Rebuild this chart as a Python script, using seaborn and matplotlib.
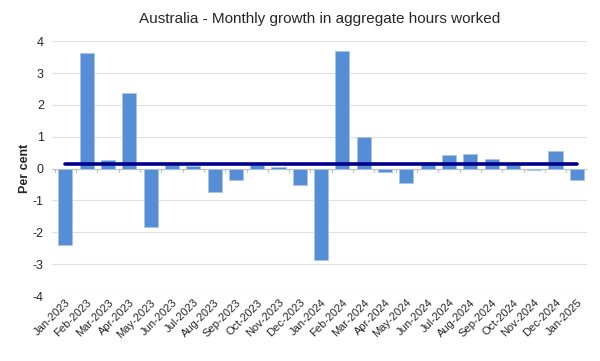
import matplotlib
matplotlib.use("Agg")
import matplotlib.pyplot as plt
import seaborn as sns
import pandas as pd

months = ["Jan-2023", "Feb-2023", "Mar-2023", "Apr-2023", "May-2023", "Jun-2023",
          "Jul-2023", "Aug-2023", "Sep-2023", "Oct-2023", "Nov-2023", "Dec-2023",
          "Jan-2024", "Feb-2024", "Mar-2024", "Apr-2024", "May-2024", "Jun-2024",
          "Jul-2024", "Aug-2024", "Sep-2024", "Oct-2024", "Nov-2024", "Dec-2024",
          "Jan-2025"]
growth = [-2.39, 3.62, 0.28, 2.36, -1.83, 0.12, 0.07, -0.74, -0.36, 0.12, 0.06, -0.50,
          -2.88, 3.68, 0.98, -0.10, -0.45, 0.22, 0.42, 0.45, 0.30, 0.12, -0.05, 0.55,
          -0.36]
average = [0.15] * len(months)
yticks = [4, 3, 2, 1, 0, -1, -2, -3, -4]

df = pd.DataFrame({"month": months, "growth": growth, "avg": average})

sns.set_theme(style="white")
plt.rcParams["font.family"] = ["Liberation Sans", "DejaVu Sans"]
plt.rcParams["axes.unicode_minus"] = False

fig = plt.figure(figsize=(6, 3.61), dpi=100)
ax = fig.add_axes([0.087, 0.18, 0.891, 0.706])

sns.barplot(data=df, x="month", y="growth", color="#558ED5", saturation=1,
            width=0.66, edgecolor="#A9C4EB", linewidth=0.6, ax=ax, zorder=2)
ax.plot(range(len(months)), df["avg"], color="#00008B", linewidth=2.6, zorder=3)

ax.set_ylim(-4, 4)
ax.set_yticks(yticks)
ax.set_yticklabels([str(t) for t in yticks])
ax.set_xlim(-0.62, 24.47)
ax.grid(axis="y", color="#E0E0E0", linewidth=0.8, zorder=0)
ax.set_axisbelow(True)
for s in ["top", "right", "left", "bottom"]:
    ax.spines[s].set_visible(False)
ax.axhline(0, color="#BFBFBF", linewidth=0.8, zorder=1)
for i in range(len(months) + 1):
    ax.plot([i - 0.5, i - 0.5], [0, -0.1], color="#BFBFBF", linewidth=0.8, zorder=1)

ax.set_xlabel("")
ax.set_ylabel("Per cent", fontsize=9, fontweight="bold", labelpad=1)
ax.tick_params(axis="x", length=0, labelsize=8, pad=1)
ax.tick_params(axis="y", length=0, labelsize=9, pad=6)
ax.set_xticks(range(len(months)))
ax.set_xticklabels(months, rotation=45, ha="right", rotation_mode="anchor")
ax.set_title("Australia - Monthly growth in aggregate hours worked", fontsize=11, pad=13)

fig.savefig("out.png", dpi=100)
